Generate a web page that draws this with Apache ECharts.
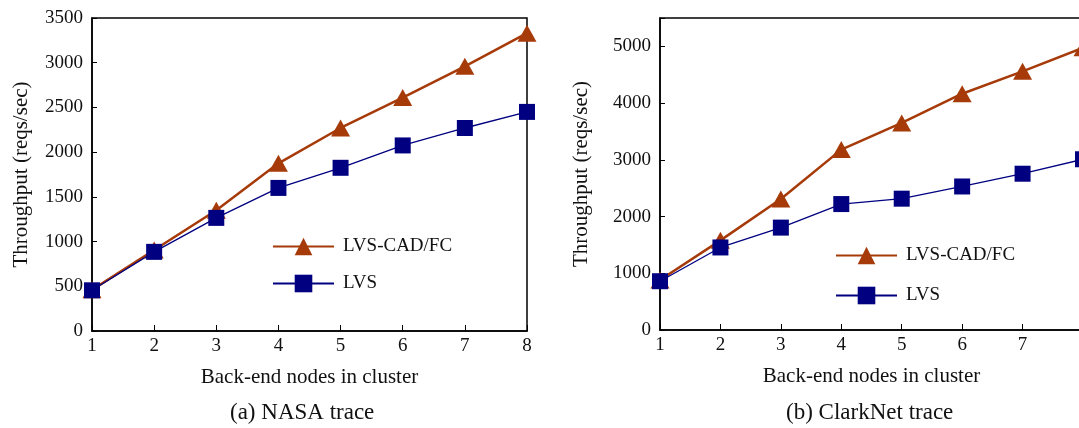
<!DOCTYPE html>
<html>
<head>
<meta charset="utf-8">
<script src="https://cdn.jsdelivr.net/npm/echarts@6/dist/echarts.min.js"></script>
<style>html,body{margin:0;padding:0;background:#fff;}#c{width:1079px;height:428px;}</style>
</head>
<body>
<div id="c"></div>
<script>
const nodes = [1, 2, 3, 4, 5, 6, 7, 8];
const nasaCad = [460, 905, 1350, 1875, 2270, 2610, 2960, 3330];
const nasaLvs = [455, 885, 1265, 1600, 1825, 2075, 2270, 2450];
const clarkCad = [880, 1580, 2310, 3180, 3650, 4165, 4560, 4975];
const clarkLvs = [860, 1455, 1805, 2220, 2315, 2530, 2755, 3010];
const seriesNames = ['LVS-CAD/FC', 'LVS'];
const captions = ['(a) NASA trace', '(b) ClarkNet trace'];
const xTitle = 'Back-end nodes in cluster';
const yTitle = 'Throughput (reqs/sec)';

const FONT = 'Liberation Serif';
const CAD_COLOR = '#A63A08';
const LVS_COLOR = '#000080';
const pairs = arr => arr.map((v, i) => [nodes[i], v]);

const chart = echarts.init(document.getElementById('c'), null, {renderer: 'canvas'});

function xAxis(gi) {
  return {
    gridIndex: gi, type: 'value', min: 1, max: 8, interval: 1,
    name: xTitle, nameLocation: 'middle', nameGap: 36,
    nameTextStyle: {fontFamily: FONT, fontSize: 21, color: '#111'},
    axisLine: {lineStyle: {color: '#000', width: 1.5}},
    axisTick: {inside: true, length: 6, lineStyle: {color: '#000', width: 1}},
    axisLabel: {fontFamily: FONT, fontSize: 19, color: '#111', margin: 6, showMaxLabel: true, showMinLabel: true},
    splitLine: {show: false}
  };
}
function yAxis(gi, max, interval, gap) {
  return {
    gridIndex: gi, type: 'value', min: 0, max: max, interval: interval,
    name: yTitle, nameLocation: 'middle', nameGap: gap, nameRotate: 90,
    nameTextStyle: {fontFamily: FONT, fontSize: 21, color: '#111'},
    axisLine: {show: true, lineStyle: {color: '#000', width: 1.5}},
    axisTick: {show: true, inside: true, length: 5, lineStyle: {color: '#000', width: 1}},
    axisLabel: {fontFamily: FONT, fontSize: 19, color: '#111', margin: 9,
      formatter: v => (v % interval === 0 ? String(v) : '')},
    splitLine: {show: false}
  };
}
function cadSeries(gi, data) {
  return {
    name: seriesNames[0], type: 'line', xAxisIndex: gi, yAxisIndex: gi, data: pairs(data),
    symbol: 'triangle', symbolSize: [19, 17],
    lineStyle: {color: CAD_COLOR, width: 2.5}, itemStyle: {color: CAD_COLOR},
    z: 2, animation: false
  };
}
function lvsSeries(gi, data) {
  return {
    name: seriesNames[1], type: 'line', xAxisIndex: gi, yAxisIndex: gi, data: pairs(data),
    symbol: 'rect', symbolSize: 16,
    lineStyle: {color: LVS_COLOR, width: 1.3}, itemStyle: {color: LVS_COLOR},
    z: 3, animation: false
  };
}
function legend(left, top, gap) {
  return {
    data: seriesNames, orient: 'vertical', left: left, top: top,
    itemWidth: 61, itemHeight: 22, itemGap: gap, selectedMode: false,
    textStyle: {fontFamily: FONT, fontSize: 19, color: '#111', padding: [0, 0, 0, 4]}
  };
}

chart.setOption({
  backgroundColor: '#fff',
  animation: false,
  grid: [
    {left: 92, top: 18, width: 435, height: 313, show: true, borderColor: '#000', borderWidth: 1.5, backgroundColor: 'transparent', outerBoundsMode: 'none'},
    {left: 660, top: 18, width: 423, height: 312, show: true, borderColor: '#000', borderWidth: 1.5, backgroundColor: 'transparent', outerBoundsMode: 'none'}
  ],
  xAxis: [xAxis(0), xAxis(1)],
  yAxis: [yAxis(0, 3500, 500, 60), yAxis(1, 5500, 1000, 68)],
  legend: [legend(267, 232, 18), legend(830, 241, 21)],
  series: [
    cadSeries(0, nasaCad), lvsSeries(0, nasaLvs),
    cadSeries(1, clarkCad), lvsSeries(1, clarkLvs)
  ],
  graphic: [
    {type: 'text', left: 230, top: 401, style: {text: captions[0], font: '23px "Liberation Serif"', fill: '#111'}},
    {type: 'text', left: 786, top: 401, style: {text: captions[1], font: '23px "Liberation Serif"', fill: '#111'}}
  ]
});
</script>
</body>
</html>
